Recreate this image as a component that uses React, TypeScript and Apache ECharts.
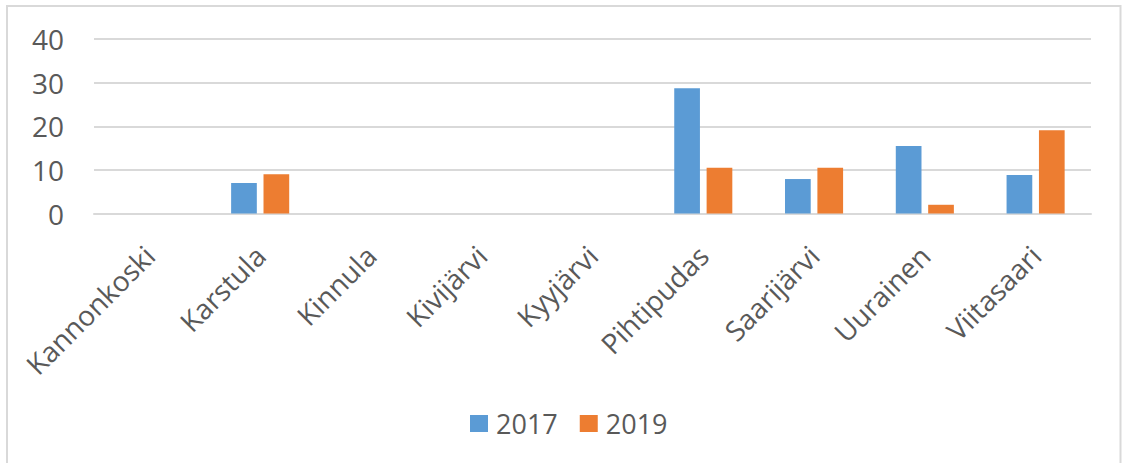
import React, { useEffect, useRef } from "react";
import * as echarts from "echarts";

const categories = ["Kannonkoski", "Karstula", "Kinnula", "Kivijärvi", "Kyyjärvi", "Pihtipudas", "Saarijärvi", "Uurainen", "Viitasaari"];
const values2017 = [0, 7, 0, 0, 0, 28.7, 7.9, 15.5, 8.8];
const values2019 = [0, 9, 0, 0, 0, 10.5, 10.5, 2, 19.1];
const seriesNames = ["2017", "2019"];
const yTicks = { min: 0, max: 40, interval: 10 };

const FONT = "'Open Sans', sans-serif";
const TEXT = "#595959";
const GRID = "#d9d9d9";

export default function App() {
  const ref = useRef<HTMLDivElement>(null);
  useEffect(() => {
    document.body.style.margin = "0";
    const chart = echarts.init(ref.current!, null, { renderer: "svg" });
    chart.setOption({
      animation: false,
      backgroundColor: "#fff",
      textStyle: { fontFamily: FONT },
      graphic: [
        {
          type: "rect",
          shape: { x: 7, y: 6, width: 1113.5, height: 480 },
          style: { fill: "none", stroke: "#d9d9d9", lineWidth: 2 },
          silent: true,
        },
      ],
      legend: {
        data: seriesNames,
        left: 465,
        top: 405,
        itemWidth: 18,
        itemHeight: 17,
        itemGap: 22,
        icon: "rect",
        textStyle: { color: TEXT, fontSize: 27, fontFamily: FONT, padding: [0, 0, 0, 3] },
      },
      grid: { left: 94, right: 31, top: 39, bottom: 249.5, containLabel: false },
      xAxis: {
        type: "category",
        data: categories,
        axisTick: { show: false },
        axisLine: { lineStyle: { color: GRID, width: 2 } },
        axisLabel: { rotate: 45, color: TEXT, fontSize: 28, fontFamily: FONT, margin: 37, interval: 0 },
      },
      yAxis: {
        type: "value",
        min: yTicks.min,
        max: yTicks.max,
        interval: yTicks.interval,
        axisLine: { show: false },
        axisTick: { show: false },
        splitLine: { lineStyle: { color: GRID, width: 2 } },
        axisLabel: { color: TEXT, fontSize: 28, fontFamily: FONT, margin: 30 },
      },
      series: [
        {
          name: seriesNames[0],
          type: "bar",
          data: values2017,
          barWidth: 25.7,
          barGap: "26%",
          itemStyle: { color: "#5B9BD5" },
        },
        {
          name: seriesNames[1],
          type: "bar",
          data: values2019,
          barWidth: 25.7,
          itemStyle: { color: "#ED7D31" },
        },
      ],
    });
    return () => chart.dispose();
  }, []);
  return <div ref={ref} style={{ width: 1122, height: 463 }} />;
}
